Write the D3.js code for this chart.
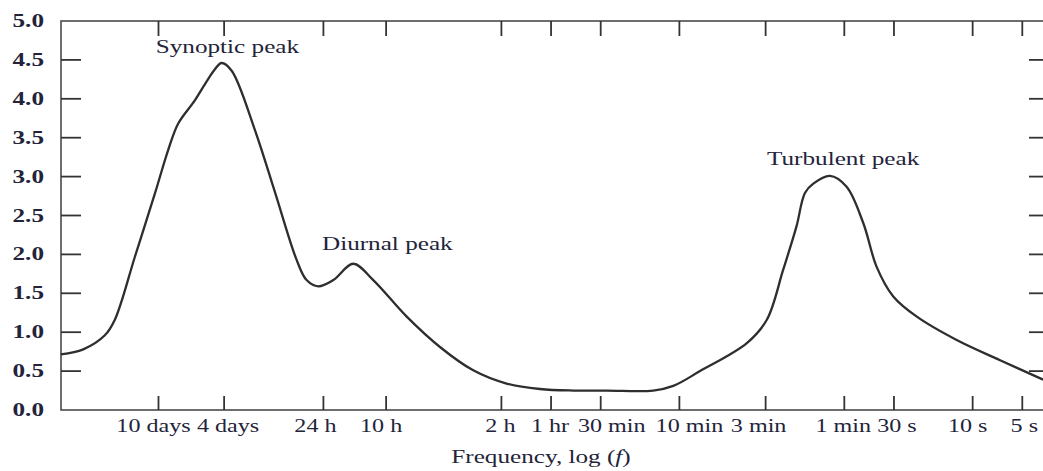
<!DOCTYPE html>
<html>
<head>
<meta charset="utf-8">
<script src="https://cdn.jsdelivr.net/npm/d3@7/dist/d3.min.js"></script>
<style>
  html, body { margin: 0; padding: 0; background: #fff; overflow: hidden; }
  svg { display: block; }
  text { font-family: "Liberation Serif", "Times New Roman", serif; fill: #23243a; }
</style>
</head>
<body>
<svg id="chart" width="1043" height="471"></svg>
<script>
// ---- data (periods in seconds, spectral power) ----
const curvePeriod = [3.38e6, 2.47e6, 1.827e6, 1.589e6, 1.201e6, 9.09e5, 7.55e5, 6.57e5, 5.20e5,
  4.42e5, 3.93e5, 3.58e5, 3.11e5, 2.25e5, 1.70e5, 1.256e5, 1.093e5, 9.29e4,
  7.53e4, 5.70e4, 4.31e4, 2.70e4, 1.698e4, 1.067e4, 6700, 4207, 2642, 1656,
  865, 653, 450, 234, 177, 141, 117, 104, 92.5, 73.3,
  58.1, 46.0, 38.2, 30.3, 21.8, 12.5, 6.82, 3.74];
const curvePower = [0.715, 0.78, 0.96, 1.16, 1.97, 2.78, 3.34, 3.68, 3.98,
  4.22, 4.38, 4.46, 4.36, 3.60, 2.80, 1.93, 1.67, 1.59,
  1.67, 1.88, 1.67, 1.20, 0.81, 0.51, 0.34, 0.27, 0.25, 0.25,
  0.25, 0.31, 0.50, 0.86, 1.16, 1.80, 2.36, 2.79, 2.91, 3.01,
  2.87, 2.40, 1.84, 1.46, 1.20, 0.90, 0.64, 0.39];

const tickPeriods = [864000, 345600, 86400, 36000, 7200, 3600, 1800, 600, 180, 60, 30, 10, 5];
const tickLabels = ["10 days", "4 days", "24 h", "10 h", "2 h", "1 hr", "30 min", "10 min", "3 min", "1 min", "30 s", "10 s", "5 s"];
const yTicks = [0.0, 0.5, 1.0, 1.5, 2.0, 2.5, 3.0, 3.5, 4.0, 4.5, 5.0];

const peakLabels = ["Synoptic peak", "Diurnal peak", "Turbulent peak"];
const peakPeriod = [3.30e5, 3.54e4, 61];
const peakPower = [4.59, 2.06, 3.15];

const xTitle = "Frequency, log ";

// ---- layout ----
const mLeft = 61, mRight = 1045, mTop = 21, mBottom = 410;
const sx = 1.4;        // horizontal stretch of the original typography
const sxTick = 1.34;
const labelNudge = [-5, 4, -8, -5, -1, -1, 11, 10, -7, -1, 3, -5, 2];
const svg = d3.select("#chart");

const x = d3.scaleLog().domain([3.37e6, 3.745]).range([mLeft, 1043]);
const y = d3.scaleLinear().domain([0, 5]).range([mBottom, mTop]);

const axisColor = "#4a4a4a";

// frame
svg.append("rect").attr("x", mLeft).attr("y", mTop)
  .attr("width", mRight - mLeft).attr("height", mBottom - mTop)
  .attr("fill", "none").attr("stroke", axisColor).attr("stroke-width", 1.6);

// bottom & top ticks
const g = svg.append("g");
tickPeriods.forEach((p) => {
  const px = x(p);
  g.append("line").attr("x1", px).attr("x2", px).attr("y1", mBottom).attr("y2", mBottom - 14)
    .attr("stroke", "#333").attr("stroke-width", 1.8);
  g.append("line").attr("x1", px).attr("x2", px).attr("y1", mTop).attr("y2", mTop + 15)
    .attr("stroke", "#333").attr("stroke-width", 1.8);
});

// bottom tick labels
tickPeriods.forEach((p, i) => {
  svg.append("text")
    .attr("transform", `translate(${x(p) + labelNudge[i]},432) scale(${sxTick},1)`)
    .attr("text-anchor", "middle")
    .attr("font-size", 18)
    .text(tickLabels[i]);
});

// left & right y ticks
yTicks.forEach((v) => {
  if (v > 0 && v < 5) {
    g.append("line").attr("x1", mLeft).attr("x2", mLeft + 20).attr("y1", y(v)).attr("y2", y(v))
      .attr("stroke", "#333").attr("stroke-width", 1.8);
    g.append("line").attr("x1", 1029).attr("x2", mRight).attr("y1", y(v)).attr("y2", y(v))
      .attr("stroke", "#333").attr("stroke-width", 1.8);
  }
  svg.append("text")
    .attr("transform", `translate(44,${y(v) + 6}) scale(${sx},1)`)
    .attr("text-anchor", "end")
    .attr("font-size", 18)
    .attr("font-weight", "bold")
    .text(v.toFixed(1));
});

// curve
const pts = curvePeriod.map((p, i) => [p, curvePower[i]]);
const line = d3.line().x(d => x(d[0])).y(d => y(d[1])).curve(d3.curveCatmullRom.alpha(0.5));
svg.append("path").datum(pts).attr("d", line)
  .attr("fill", "none").attr("stroke", "#2e2e2e").attr("stroke-width", 2.3)
  .attr("stroke-linejoin", "round");

// peak annotations
peakLabels.forEach((t, i) => {
  svg.append("text")
    .attr("transform", `translate(${x(peakPeriod[i])},${y(peakPower[i])}) scale(${sx},1)`)
    .attr("text-anchor", "middle")
    .attr("font-size", 18)
    .text(t);
});

// axis title
const tt = svg.append("text")
  .attr("transform", `translate(541,463) scale(${sx},1)`)
  .attr("text-anchor", "middle")
  .attr("font-size", 18);
tt.append("tspan").text(xTitle);
tt.append("tspan").text("(");
tt.append("tspan").attr("font-style", "italic").text("f");
tt.append("tspan").text(")");
</script>
</body>
</html>
